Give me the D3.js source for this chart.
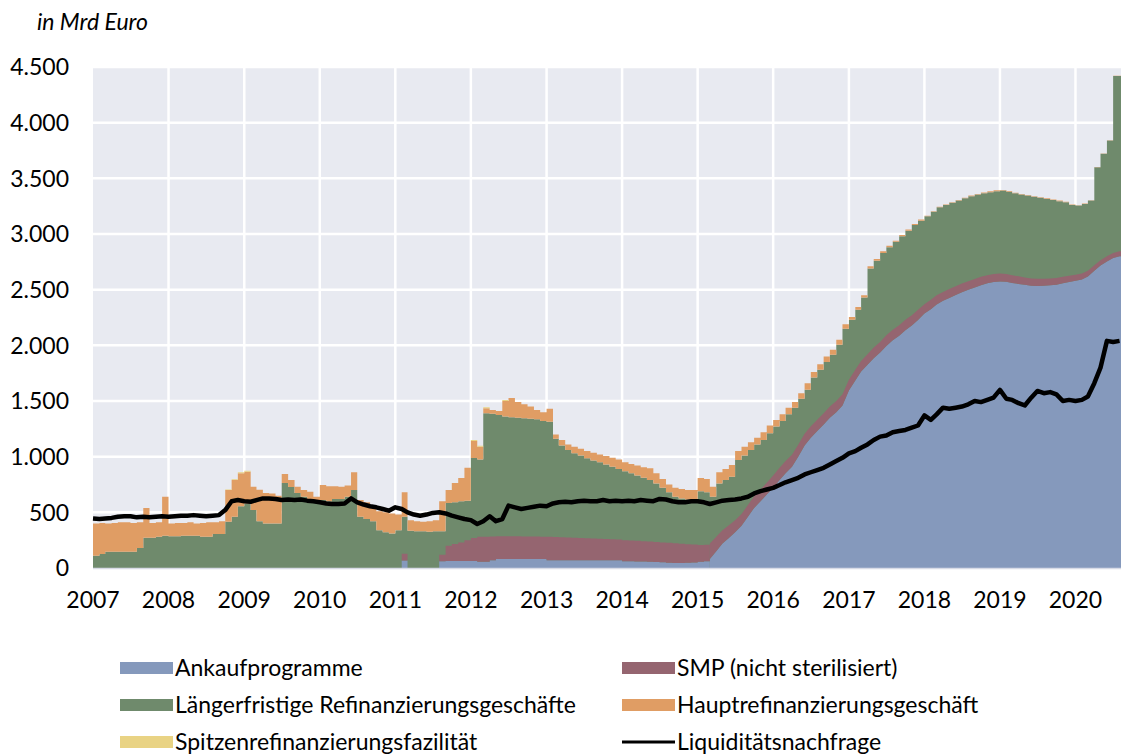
<!DOCTYPE html>
<html>
<head>
<meta charset="utf-8">
<script src="https://cdn.jsdelivr.net/npm/d3@7"></script>
<style>
  body { margin: 0; background: #fff; }
  svg text { font-family: "Gill Sans", "Lato", "Open Sans", sans-serif; fill: #000; }
</style>
</head>
<body>
<div id="chart"></div>
<script>
// Width and height
var chart_width  = 1121;
var chart_height = 756;

// Data (Mrd Euro, month values Jan 2007 - Aug 2020)
var years = [2007,2008,2009,2010,2011,2012,2013,2014,2015,2016,2017,2018,2019,2020];
var yTicks = [0,500,1000,1500,2000,2500,3000,3500,4000,4500];

var ankauf = [
  0,0,0,0,0,0,0,0,0,0,0,0,
  0,0,0,0,0,0,0,0,0,0,0,0,
  0,0,0,0,0,0,0,0,0,0,0,0,
  0,0,0,0,0,0,0,0,0,0,0,0,
  0,67,0,0,0,0,0,60,63,63,63,63,
  63,57,57,70,81,81,81,81,81,81,81,80,
  70,70,70,70,70,70,70,70,70,70,70,70,
  60,60,58,58,56,55,52,48,45,45,48,50,
  57,60,80,150,220,270,320,380,460,540,600,660,
  720,790,850,910,1000,1100,1170,1230,1290,1350,1400,1460,
  1595,1685,1765,1825,1885,1935,1995,2045,2085,2135,2178,2228,
  2285,2325,2367,2400,2425,2452,2477,2499,2520,2540,2557,2568,
  2573,2570,2560,2552,2544,2535,2534,2536,2540,2545,2557,2569,
  2580,2591,2618,2670,2717,2753,2785,2800
];
var smp = [
  0,0,0,0,0,0,0,0,0,0,0,0,
  0,0,0,0,0,0,0,0,0,0,0,0,
  0,0,0,0,0,0,0,0,0,0,0,0,
  0,0,0,0,0,0,0,0,0,0,0,0,
  0,60,0,0,0,0,0,60,137,152,167,187,
  207,223,224,213,204,204,204,204,203,202,201,201,
  210,208,206,204,202,200,198,196,193,190,188,185,
  190,187,186,182,181,178,178,178,177,173,166,160,
  150,148,140,130,120,115,110,105,105,105,105,105,
  110,110,110,108,106,105,104,102,100,100,100,100,
  95,95,95,95,95,95,95,95,95,95,92,92,
  85,85,83,80,80,78,78,76,75,75,73,72,
  72,70,70,68,66,65,64,62,60,60,58,56,
  55,54,52,50,48,47,45,45
];
var ltro = [
  110,126,146,146,146,146,146,180,272,272,280,290,
  285,285,290,290,290,280,280,305,305,416,460,555,
  580,520,420,400,400,400,763,727,673,640,620,610,
  610,600,620,620,640,700,460,440,420,340,320,310,
  340,333,335,330,330,325,330,210,383,375,370,355,
  717,695,1109,1102,1090,1075,1070,1065,1061,1057,1053,1039,
  1033,882,824,786,758,740,717,699,687,670,652,635,
  620,603,586,570,553,527,490,454,418,407,401,400,
  483,472,420,480,450,435,540,525,495,465,445,445,
  440,420,420,422,414,395,436,448,460,465,505,590,
  540,540,570,770,780,800,790,790,800,800,810,800,
  790,790,790,780,775,770,765,765,760,750,745,745,
  745,740,735,735,735,735,727,717,705,690,670,635,
  620,625,630,880,955,1040,1590,1575
];
var mro = [
  290,279,254,259,264,264,259,230,268,133,130,350,
  115,120,115,120,110,125,130,105,115,284,330,295,
  285,210,283,273,270,250,81,63,57,60,65,30,
  135,135,115,110,100,160,150,150,120,170,180,180,
  140,220,95,90,85,95,100,270,117,173,208,295,
  153,115,46,35,35,140,171,140,125,110,85,80,
  117,40,50,50,60,60,65,70,70,75,80,85,
  80,85,90,95,105,90,80,70,80,85,85,90,
  118,120,90,100,100,105,80,80,70,60,70,70,
  60,60,60,50,50,60,50,50,50,45,45,40,
  25,25,20,20,15,15,15,10,10,10,10,10,
  5,5,5,5,5,5,5,5,5,8,8,8,
  6,6,6,5,5,5,5,5,5,5,5,5,
  3,3,3,2,2,1,1,1
];
var spitzen = [
  0,0,0,0,0,0,0,0,0,0,0,0,
  0,0,0,0,0,0,0,0,0,5,8,10,
  8,0,0,0,0,0,0,0,0,0,0,0,
  0,0,0,0,0,0,0,0,0,0,0,0,
  0,0,0,0,0,0,0,0,0,0,0,0,
  10,8,8,0,0,10,0,0,0,0,0,0,
  0,0,0,0,0,0,0,0,0,0,0,0,
  0,0,0,0,0,0,0,0,0,0,0,0,
  0,0,0,0,0,0,0,0,0,0,0,0,
  0,0,0,0,0,0,0,0,0,0,0,0,
  0,0,0,0,0,0,0,0,0,0,0,0,
  0,0,0,0,0,0,0,0,0,0,0,0,
  0,0,0,0,0,0,0,0,0,0,0,0,
  0,0,0,0,0,0,0,0
];
var nachfrage = [
  445,440,445,450,460,465,465,455,460,455,460,465,
  460,465,470,470,475,470,465,470,475,520,600,610,
  600,595,610,625,625,620,610,615,610,615,605,600,
  590,580,575,575,580,625,590,570,555,545,530,515,
  545,530,500,480,470,480,495,500,490,470,455,440,
  430,395,420,465,420,440,560,545,530,540,550,560,
  555,580,590,595,590,600,605,600,600,610,600,605,
  600,605,600,610,605,600,620,615,600,590,590,600,
  600,590,575,590,605,610,615,625,640,670,690,705,
  720,745,770,790,810,840,860,880,900,930,960,990,
  1030,1050,1080,1110,1150,1180,1190,1220,1230,1240,1260,1280,
  1370,1330,1380,1440,1430,1440,1450,1470,1500,1490,1510,1530,
  1600,1520,1510,1480,1460,1530,1590,1570,1580,1560,1500,1510,
  1500,1510,1540,1660,1800,2040,2030,2040
];

var keys   = ['ankauf','smp','ltro','mro','spitzen'];
var labels = {
  ankauf:  'Ankaufprogramme',
  smp:     'SMP (nicht sterilisiert)',
  ltro:    'Längerfristige Refinanzierungsgeschäfte',
  mro:     'Hauptrefinanzierungsgeschäft',
  spitzen: 'Spitzenrefinanzierungsfazilität'
};
var colors = {
  ankauf:  '#8599bc',
  smp:     '#956570',
  ltro:    '#6f8a6c',
  mro:     '#e09d64',
  spitzen: '#e9d384'
};

var months = d3.timeMonth.range(new Date(2007,0,1), new Date(2020,8,1));
var rows = months.map(function(d, i){
  return { date: d, ankauf: ankauf[i], smp: smp[i], ltro: ltro[i], mro: mro[i], spitzen: spitzen[i], nachfrage: nachfrage[i] };
});
var endDate = new Date(2020,7,8);
var areaRows = rows.concat([Object.assign({}, rows[rows.length-1], { date: endDate })]);

// Scales
var plot = { left: 93, right: 1121, top: 67, bottom: 568 };
var x = d3.scaleTime()
  .domain([ new Date(2007,0,1), endDate ])
  .range([ plot.left, plot.right ]);
var y = d3.scaleLinear()
  .domain([ 0, 4500 ])
  .range([ plot.bottom, plot.top ]);

var de = d3.formatLocale({ decimal: ',', thousands: '.', grouping: [3], currency: ['', ' €'] });
var fmt = de.format(',');

// Create SVG
var svg = d3.select('#chart')
  .append('svg')
  .attr('width', chart_width)
  .attr('height', chart_height);

svg.append('rect')
  .attr('x', plot.left)
  .attr('y', plot.top)
  .attr('width', plot.right - plot.left)
  .attr('height', plot.bottom - plot.top)
  .attr('fill', '#e8eaf1');

// grid
svg.append('g')
  .selectAll('line')
  .data(yTicks.slice(1))
  .enter()
  .append('line')
  .attr('x1', plot.left).attr('x2', plot.right)
  .attr('y1', function(d){ return y(d); })
  .attr('y2', function(d){ return y(d); })
  .attr('stroke', '#fff')
  .attr('stroke-width', 2.5);

svg.append('g')
  .selectAll('line')
  .data(years.slice(1))
  .enter()
  .append('line')
  .attr('x1', function(d){ return x(new Date(d,0,1)); })
  .attr('x2', function(d){ return x(new Date(d,0,1)); })
  .attr('y1', plot.top).attr('y2', plot.bottom)
  .attr('stroke', '#fff')
  .attr('stroke-width', 2.5);

// stacked areas: each layer drawn from its own baseline,
// the purchase programmes run smoothly from 2015 on, the operations step
var stack = d3.stack().keys(keys);
var series = stack(areaRows);
var splitAt = 98; // March 2015

function areaFor(curve) {
  return d3.area()
    .curve(curve)
    .x(function(d){ return x(d.data.date); })
    .y0(function(d){ return y(d[0]); })
    .y1(function(d){ return y(d[1]); });
}
var stepArea = areaFor(d3.curveStepAfter);
var smoothArea = areaFor(d3.curveLinear);

var layers = svg.append('g');
series.forEach(function(s){
  if (s.key === 'ankauf' || s.key === 'smp') {
    layers.append('path')
      .attr('d', stepArea(s.slice(0, splitAt + 1)))
      .attr('fill', colors[s.key]);
    layers.append('path')
      .attr('d', smoothArea(s.slice(splitAt)))
      .attr('fill', colors[s.key]);
  } else if (s.key === 'ltro') {
    // green drawn down to zero so it meets the smooth layers below
    var full = d3.area()
      .curve(d3.curveStepAfter)
      .x(function(d){ return x(d.data.date); })
      .y0(y(0))
      .y1(function(d){ return y(d[1]); });
    layers.insert('path', ':first-child')
      .attr('d', full(s))
      .attr('fill', colors[s.key]);
  } else {
    layers.append('path')
      .attr('d', stepArea(s))
      .attr('fill', colors[s.key]);
  }
});

// bottom edge
svg.append('line')
  .attr('x1', plot.left).attr('x2', plot.right)
  .attr('y1', plot.bottom + 0.5).attr('y2', plot.bottom + 0.5)
  .attr('stroke', '#d8dbe6')
  .attr('stroke-width', 1.5);

// liquidity demand line
var line = d3.line()
  .x(function(d){ return x(d.date); })
  .y(function(d){ return y(d.nachfrage); });

svg.append('path')
  .datum(rows)
  .attr('d', line)
  .attr('fill', 'none')
  .attr('stroke', '#000')
  .attr('stroke-width', 4.5)
  .attr('stroke-linejoin', 'round');

// axes labels
svg.append('g')
  .selectAll('text')
  .data(yTicks)
  .enter()
  .append('text')
  .attr('x', 69)
  .attr('y', function(d){ return y(d); })
  .attr('dy', '0.36em')
  .attr('text-anchor', 'end')
  .style('font-size', '23px')
  .text(function(d){ return fmt(d); });

svg.append('g')
  .selectAll('text')
  .data(years)
  .enter()
  .append('text')
  .attr('x', function(d){ return x(new Date(d,0,1)); })
  .attr('y', 608)
  .attr('text-anchor', 'middle')
  .style('font-size', '23px')
  .text(function(d){ return d; });

svg.append('text')
  .attr('x', 37)
  .attr('y', 30)
  .style('font-size', '23px')
  .style('font-style', 'italic')
  .text('in Mrd Euro');

// legend
var legendItems = [
  { key: 'ankauf',  col: 0, row: 0 },
  { key: 'smp',     col: 1, row: 0 },
  { key: 'ltro',    col: 0, row: 1 },
  { key: 'mro',     col: 1, row: 1 },
  { key: 'spitzen', col: 0, row: 2 },
  { key: 'line',    col: 1, row: 2 }
];
var colX = [120, 622];
var rowY = [668, 705, 742];

var legend = svg.append('g').attr('class', 'legend');
legendItems.forEach(function(it){
  var lx = colX[it.col], ly = rowY[it.row];
  if (it.key === 'line') {
    legend.append('line')
      .attr('x1', lx).attr('x2', lx + 53)
      .attr('y1', ly).attr('y2', ly)
      .attr('stroke', '#000').attr('stroke-width', 3);
  } else {
    legend.append('rect')
      .attr('x', lx).attr('y', ly - 6)
      .attr('width', 53).attr('height', 12)
      .attr('fill', colors[it.key]);
  }
  legend.append('text')
    .attr('x', lx + 55)
    .attr('y', ly)
    .attr('dy', '0.35em')
    .style('font-size', '23px')
    .text(it.key === 'line' ? 'Liquiditätsnachfrage' : labels[it.key]);
});
</script>
</body>
</html>
